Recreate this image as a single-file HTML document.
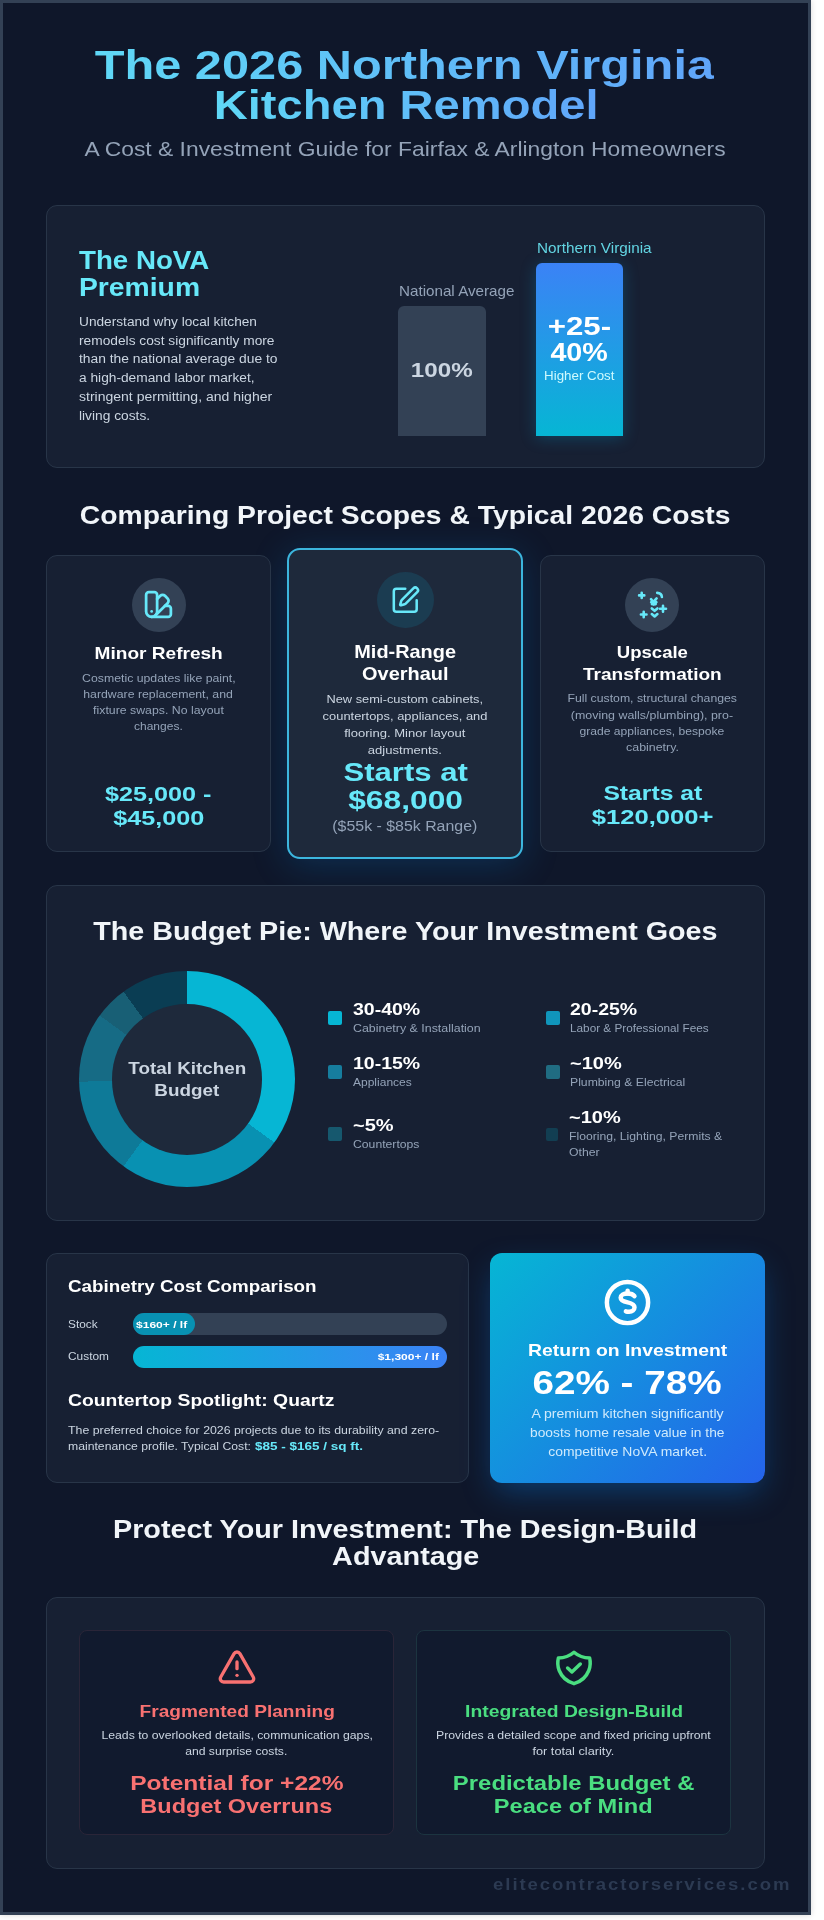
<!DOCTYPE html>
<html lang="en"><head><meta charset="utf-8"><title>The 2026 Northern Virginia Kitchen Remodel</title>
<style>
html,body{margin:0;padding:0;background:#ffffff;}
body{width:824px;height:1920px;overflow:hidden;position:relative;font-family:"Liberation Sans",sans-serif;}
#page{position:absolute;left:0;top:0;width:811px;height:1915px;background:#0f172a;box-shadow:0 0 6px rgba(0,0,0,.16);overflow:hidden;}
.frame{position:absolute;left:0;top:0;width:811px;height:1915px;box-sizing:border-box;border:3px solid #334155;border-right-width:3px;}
.abs{position:absolute;}
.t{position:absolute;white-space:nowrap;margin:0;padding:0;}
.t span{display:inline-block;}
.card{position:absolute;box-sizing:border-box;background:#172033;border:1px solid #283548;border-radius:11px;}
.ic{position:absolute;fill:none;stroke:#67e8f9;stroke-width:2;stroke-linecap:round;stroke-linejoin:round;}
.circ{position:absolute;border-radius:50%;}
.sw{position:absolute;width:14px;height:14px;border-radius:2px;}

</style></head>
<body>
<div id="page">
<div class="frame"></div>
<!-- card 1 -->
<div class="card" style="left:45.5px;top:205.3px;width:719.5px;height:263px;"></div>
<div class="abs" style="left:398.2px;top:305.7px;width:87.4px;height:130px;background:#334155;border-radius:6px 6px 0 0;"></div>
<div class="abs" style="left:536.2px;top:262.8px;width:86.6px;height:172.9px;background:linear-gradient(180deg,#3b82f6,#06b6d4);border-radius:6px 6px 0 0;box-shadow:0 2px 16px rgba(6,160,215,.28);"></div>
<!-- three cards -->
<div class="card" style="left:287px;top:548.3px;width:236.3px;height:311px;background:#1e293b;border:2px solid #3cb6de;border-radius:13px;box-shadow:0 6px 36px 0 rgba(10,125,215,.24);"></div>
<div class="card" style="left:45.7px;top:554.9px;width:225.2px;height:297.2px;"></div>
<div class="card" style="left:539.8px;top:554.9px;width:225.2px;height:297.2px;"></div>
<div class="circ" style="left:131.5px;top:577.6px;width:54.2px;height:54.2px;background:#334155;"></div>
<div class="circ" style="left:376.9px;top:571.6px;width:56.8px;height:56.8px;background:#1b3c51;"></div>
<div class="circ" style="left:624.6px;top:577.6px;width:54.2px;height:54.2px;background:#334155;"></div>
<svg class="ic" style="left:142.2px;top:588.1px;" width="33" height="33" viewBox="0 0 24 24"><path d="M11 17a4 4 0 0 1-8 0V5a2 2 0 0 1 2-2h4a2 2 0 0 1 2 2Z"/><path d="M16.7 13H19a2 2 0 0 1 2 2v4a2 2 0 0 1-2 2H7"/><path d="M7 17h.01"/><path d="m11 8 2.3-2.3a2.4 2.4 0 0 1 3.404.004L18.6 7.6a2.4 2.4 0 0 1 .026 3.434L9.9 19.8"/></svg>
<svg class="ic" style="left:389.8px;top:585.4px;" width="30.5" height="30.5" viewBox="0 0 24 24"><path d="M12 3H5a2 2 0 0 0-2 2v14a2 2 0 0 0 2 2h14a2 2 0 0 0 2-2v-7"/><path d="M18.375 2.625a1 1 0 0 1 3 3l-9.013 9.014a2 2 0 0 1-.853.505l-2.873.84a.5.5 0 0 1-.62-.62l.84-2.873a2 2 0 0 1 .506-.852z"/></svg>
<svg class="ic" style="left:635.8px;top:588.8px;stroke-width:2.6;" width="32" height="32" viewBox="635.8 588.4 32 32"><path d="M638.9 594.8h5.2M641.5 592.2v5.2"/><path d="M657 592.3c2.6.1 4.5 1.600 4.700 4.100"/><path d="M650.8 598.600l2.300 2.800 3.300-3.600M651 601.5l2.600 2.600 2.600-2.600M651.700 603.500h3.800"/><path d="M651.600 607.800l2.800 2.400 2.800-2.400"/><path d="M651.600 613.500l2.800 2.400 2.800-2.400"/><path d="M659.800 608.200h6M662.800 605.200v6"/><path d="M640.700 613.900h5.600M643.500 611.100v5.600"/></svg>
<!-- budget pie card -->
<div class="card" style="left:45.5px;top:885.3px;width:719.5px;height:336px;"></div>
<div class="circ" style="left:79px;top:971.4px;width:216px;height:216px;background:conic-gradient(#06b6d4 0 35%,#0891b2 35% 60%,#0e7a98 60% 74.6%,#166b85 74.6% 85%,#185f75 85% 90%,#0a3d53 90% 100%);"></div>
<div class="circ" style="left:111.6px;top:1004px;width:150.8px;height:150.8px;background:#1e293b;"></div>
<div class="sw" style="left:327.6px;top:1010.8px;background:#06b6d4;"></div>
<div class="sw" style="left:327.6px;top:1065px;background:#167d9e;"></div>
<div class="sw" style="left:327.6px;top:1127px;background:#16586e;"></div>
<div class="sw" style="left:545.6px;top:1010.8px;background:#1095bb;"></div>
<div class="sw" style="left:545.6px;top:1065px;background:#206c82;"></div>
<div class="sw" style="left:546px;top:1127.5px;width:12px;height:13px;background:#123e52;"></div>
<!-- cabinetry card -->
<div class="card" style="left:46px;top:1253.3px;width:422.5px;height:229.3px;"></div>
<div class="abs" style="left:132.7px;top:1313.3px;width:314px;height:22px;border-radius:11px;background:#334155;"></div>
<div class="abs" style="left:132.7px;top:1313.3px;width:62.8px;height:22px;border-radius:11px;background:#0891b2;"></div>
<div class="abs" style="left:132.7px;top:1345.9px;width:314px;height:22px;border-radius:11px;background:linear-gradient(90deg,#06b6d4,#3b82f6);"></div>
<!-- ROI card -->
<div class="abs" style="left:490.2px;top:1253.2px;width:274.6px;height:229.5px;border-radius:12px;background:linear-gradient(135deg,#06b6d4,#2563eb);box-shadow:0 12px 32px -5px rgba(10,120,220,.42);"></div>
<svg class="ic" style="left:603px;top:1277.5px;stroke:#fff;stroke-width:2.2;" width="49" height="49" viewBox="0 0 24 24"><circle cx="12" cy="12" r="10.1"/><path d="M15.400 8.900C14.800 8.100 13.600 7.650 12.050 7.650C10 7.650 8.660 8.400 8.660 9.700C8.660 11 10 11.500 12.050 11.930C14.100 12.400 15.430 13 15.430 14.300C15.430 15.700 14.300 16.500 12.800 16.500C12.200 16.500 11.600 16.450 11.200 16.300"/><path d="M12.050 7.600V6.200"/></svg>
<!-- final card -->
<div class="card" style="left:45.5px;top:1596.8px;width:719.5px;height:272px;"></div>
<div class="card" style="left:79px;top:1630.2px;width:315.4px;height:205.2px;border-radius:8px;background:#111a2e;border-color:#2a2538;"></div>
<div class="card" style="left:416.2px;top:1630.2px;width:314.8px;height:205.2px;border-radius:8px;background:#111a2e;border-color:#1c3440;"></div>
<svg class="ic" style="left:217.2px;top:1646.5px;stroke:#f87171;" width="40" height="40" viewBox="0 0 24 24"><path d="m21.73 18-8-14a2 2 0 0 0-3.480 0l-8 14A2 2 0 0 0 4 21h16a2 2 0 0 0 1.730-3"/><path d="M12 9v4"/><path d="M12 17h.01"/></svg>
<svg class="ic" style="left:554.1px;top:1648px;stroke:#4ade80;stroke-width:3.5;" width="40" height="40" viewBox="0 0 40 40"><path d="M20 4.300C15.500 8.200 10.500 10 4.400 10C3.400 14 3.600 18.500 5.200 22.500C7.600 28.600 12.800 33.500 20 35.700C27.200 33.500 32.400 28.600 34.800 22.500C36.400 18.500 36.600 14 35.600 10C29.500 10 24.500 8.200 20 4.300Z"/><path d="M13.600 20l4.300 4 8.400-8"/></svg>

<div class="t" style="top:40.07px;font-size:40.20px;line-height:52px;left:54.30px;width:700px;text-align:center;font-weight:700;"><span id="h1a" style="transform:scaleX(1.2129);transform-origin:50% 50%;background:linear-gradient(90deg,#5fd8f6,#60a5fa);-webkit-background-clip:text;background-clip:text;color:transparent;">The 2026 Northern Virginia</span></div>
<div class="t" style="top:80.27px;font-size:40.20px;line-height:52px;left:56.30px;width:700px;text-align:center;font-weight:700;"><span id="h1b" style="transform:scaleX(1.1727);transform-origin:50% 50%;background:linear-gradient(90deg,#5fd8f6,#60a5fa);-webkit-background-clip:text;background-clip:text;color:transparent;">Kitchen Remodel</span></div>
<div class="t" style="top:136.46px;font-size:20.60px;line-height:26px;left:54.80px;width:700px;text-align:center;color:#94a3b8;"><span id="sub" style="transform:scaleX(1.1094);transform-origin:50% 50%;">A Cost &amp; Investment Guide for Fairfax &amp; Arlington Homeowners</span></div>
<div class="t" style="top:245.21px;font-size:25.08px;line-height:31px;left:79.30px;font-weight:700;color:#67e8f9;"><span id="c1a" style="transform:scaleX(1.1036);transform-origin:0 50%;">The NoVA</span></div>
<div class="t" style="top:271.51px;font-size:25.08px;line-height:31px;left:79.30px;font-weight:700;color:#67e8f9;"><span id="c1b" style="transform:scaleX(1.1277);transform-origin:0 50%;">Premium</span></div>
<div class="t" style="top:313.86px;font-size:12.24px;line-height:16px;left:79.30px;color:#cbd5e1;"><span id="c1p0" style="transform:scaleX(1.1183);transform-origin:0 50%;">Understand why local kitchen</span></div>
<div class="t" style="top:332.66px;font-size:12.24px;line-height:16px;left:79.30px;color:#cbd5e1;"><span id="c1p1" style="transform:scaleX(1.1231);transform-origin:0 50%;">remodels cost significantly more</span></div>
<div class="t" style="top:351.46px;font-size:12.24px;line-height:16px;left:79.30px;color:#cbd5e1;"><span id="c1p2" style="transform:scaleX(1.1308);transform-origin:0 50%;">than the national average due to</span></div>
<div class="t" style="top:370.26px;font-size:12.24px;line-height:16px;left:79.30px;color:#cbd5e1;"><span id="c1p3" style="transform:scaleX(1.1223);transform-origin:0 50%;">a high-demand labor market,</span></div>
<div class="t" style="top:389.06px;font-size:12.24px;line-height:16px;left:79.30px;color:#cbd5e1;"><span id="c1p4" style="transform:scaleX(1.1453);transform-origin:0 50%;">stringent permitting, and higher</span></div>
<div class="t" style="top:407.86px;font-size:12.24px;line-height:16px;left:79.30px;color:#cbd5e1;"><span id="c1p5" style="transform:scaleX(1.1245);transform-origin:0 50%;">living costs.</span></div>
<div class="t" style="top:283.35px;font-size:13.72px;line-height:17px;left:398.50px;color:#94a3b8;"><span id="na" style="transform:scaleX(1.1075);transform-origin:0 50%;">National Average</span></div>
<div class="t" style="top:357.26px;font-size:20.90px;line-height:26px;left:92.00px;width:700px;text-align:center;font-weight:700;color:#cbd5e1;"><span id="na100" style="transform:scaleX(1.1564);transform-origin:50% 50%;">100%</span></div>
<div class="t" style="top:239.65px;font-size:13.72px;line-height:17px;left:536.50px;color:#62d4e2;"><span id="nv" style="transform:scaleX(1.1158);transform-origin:0 50%;">Northern Virginia</span></div>
<div class="t" style="top:311.41px;font-size:25.08px;line-height:31px;left:229.50px;width:700px;text-align:center;font-weight:700;color:#ffffff;"><span id="nv1" style="transform:scaleX(1.2468);transform-origin:50% 50%;">+25-</span></div>
<div class="t" style="top:337.31px;font-size:25.08px;line-height:31px;left:229.50px;width:700px;text-align:center;font-weight:700;color:#ffffff;"><span id="nv2" style="transform:scaleX(1.1444);transform-origin:50% 50%;">40%</span></div>
<div class="t" style="top:367.76px;font-size:12.24px;line-height:16px;left:229.50px;width:700px;text-align:center;color:#cffafe;"><span id="nv3" style="transform:scaleX(1.0895);transform-origin:50% 50%;">Higher Cost</span></div>
<div class="t" style="top:499.22px;font-size:25.34px;line-height:32px;left:55.50px;width:700px;text-align:center;font-weight:700;color:#f1f5f9;"><span id="h2a" style="transform:scaleX(1.1174);transform-origin:50% 50%;">Comparing Project Scopes &amp; Typical 2026 Costs</span></div>
<div class="t" style="top:642.85px;font-size:16.88px;line-height:21px;left:-191.50px;width:700px;text-align:center;font-weight:700;color:#ffffff;"><span id="ca1" style="transform:scaleX(1.1305);transform-origin:50% 50%;">Minor Refresh</span></div>
<div class="t" style="top:670.58px;font-size:11.02px;line-height:14px;left:-191.50px;width:700px;text-align:center;color:#94a3b8;"><span id="cad0" style="transform:scaleX(1.1147);transform-origin:50% 50%;">Cosmetic updates like paint,</span></div>
<div class="t" style="top:686.68px;font-size:11.02px;line-height:14px;left:-191.50px;width:700px;text-align:center;color:#94a3b8;"><span id="cad1" style="transform:scaleX(1.1155);transform-origin:50% 50%;">hardware replacement, and</span></div>
<div class="t" style="top:702.78px;font-size:11.02px;line-height:14px;left:-191.50px;width:700px;text-align:center;color:#94a3b8;"><span id="cad2" style="transform:scaleX(1.1181);transform-origin:50% 50%;">fixture swaps. No layout</span></div>
<div class="t" style="top:718.88px;font-size:11.02px;line-height:14px;left:-191.50px;width:700px;text-align:center;color:#94a3b8;"><span id="cad3" style="transform:scaleX(1.0912);transform-origin:50% 50%;">changes.</span></div>
<div class="t" style="top:780.76px;font-size:20.90px;line-height:26px;left:-191.50px;width:700px;text-align:center;font-weight:700;color:#67e8f9;"><span id="cap1" style="transform:scaleX(1.2048);transform-origin:50% 50%;">$25,000 -</span></div>
<div class="t" style="top:804.76px;font-size:20.90px;line-height:26px;left:-191.50px;width:700px;text-align:center;font-weight:700;color:#67e8f9;"><span id="cap2" style="transform:scaleX(1.2063);transform-origin:50% 50%;">$45,000</span></div>
<div class="t" style="top:640.58px;font-size:17.66px;line-height:22px;left:55.20px;width:700px;text-align:center;font-weight:700;color:#ffffff;"><span id="cb1" style="transform:scaleX(1.1267);transform-origin:50% 50%;">Mid-Range</span></div>
<div class="t" style="top:662.98px;font-size:17.66px;line-height:22px;left:55.20px;width:700px;text-align:center;font-weight:700;color:#ffffff;"><span id="cb2" style="transform:scaleX(1.1288);transform-origin:50% 50%;">Overhaul</span></div>
<div class="t" style="top:692.19px;font-size:11.58px;line-height:15px;left:55.20px;width:700px;text-align:center;color:#cbd5e1;"><span id="cbd0" style="transform:scaleX(1.1062);transform-origin:50% 50%;">New semi-custom cabinets,</span></div>
<div class="t" style="top:709.29px;font-size:11.58px;line-height:15px;left:55.20px;width:700px;text-align:center;color:#cbd5e1;"><span id="cbd1" style="transform:scaleX(1.1135);transform-origin:50% 50%;">countertops, appliances, and</span></div>
<div class="t" style="top:726.39px;font-size:11.58px;line-height:15px;left:55.20px;width:700px;text-align:center;color:#cbd5e1;"><span id="cbd2" style="transform:scaleX(1.1275);transform-origin:50% 50%;">flooring. Minor layout</span></div>
<div class="t" style="top:743.49px;font-size:11.58px;line-height:15px;left:55.20px;width:700px;text-align:center;color:#cbd5e1;"><span id="cbd3" style="transform:scaleX(1.1278);transform-origin:50% 50%;">adjustments.</span></div>
<div class="t" style="top:756.38px;font-size:26.33px;line-height:33px;left:55.20px;width:700px;text-align:center;font-weight:700;color:#67e8f9;"><span id="cbp1" style="transform:scaleX(1.1811);transform-origin:50% 50%;">Starts at</span></div>
<div class="t" style="top:783.98px;font-size:26.33px;line-height:33px;left:55.20px;width:700px;text-align:center;font-weight:700;color:#67e8f9;"><span id="cbp2" style="transform:scaleX(1.2055);transform-origin:50% 50%;">$68,000</span></div>
<div class="t" style="top:816.89px;font-size:14.45px;line-height:18px;left:55.20px;width:700px;text-align:center;color:#94a3b8;"><span id="cbp3" style="transform:scaleX(1.1014);transform-origin:50% 50%;">($55k - $85k Range)</span></div>
<div class="t" style="top:641.65px;font-size:16.88px;line-height:21px;left:302.30px;width:700px;text-align:center;font-weight:700;color:#ffffff;"><span id="cc1" style="transform:scaleX(1.1012);transform-origin:50% 50%;">Upscale</span></div>
<div class="t" style="top:663.85px;font-size:16.88px;line-height:21px;left:302.30px;width:700px;text-align:center;font-weight:700;color:#ffffff;"><span id="cc2" style="transform:scaleX(1.1310);transform-origin:50% 50%;">Transformation</span></div>
<div class="t" style="top:691.38px;font-size:11.02px;line-height:14px;left:302.30px;width:700px;text-align:center;color:#94a3b8;"><span id="ccd0" style="transform:scaleX(1.1120);transform-origin:50% 50%;">Full custom, structural changes</span></div>
<div class="t" style="top:707.58px;font-size:11.02px;line-height:14px;left:302.30px;width:700px;text-align:center;color:#94a3b8;"><span id="ccd1" style="transform:scaleX(1.1272);transform-origin:50% 50%;">(moving walls/plumbing), pro-</span></div>
<div class="t" style="top:723.78px;font-size:11.02px;line-height:14px;left:302.30px;width:700px;text-align:center;color:#94a3b8;"><span id="ccd2" style="transform:scaleX(1.0996);transform-origin:50% 50%;">grade appliances, bespoke</span></div>
<div class="t" style="top:739.98px;font-size:11.02px;line-height:14px;left:302.30px;width:700px;text-align:center;color:#94a3b8;"><span id="ccd3" style="transform:scaleX(1.1258);transform-origin:50% 50%;">cabinetry.</span></div>
<div class="t" style="top:780.26px;font-size:20.90px;line-height:26px;left:302.30px;width:700px;text-align:center;font-weight:700;color:#67e8f9;"><span id="ccp1" style="transform:scaleX(1.1821);transform-origin:50% 50%;">Starts at</span></div>
<div class="t" style="top:804.16px;font-size:20.90px;line-height:26px;left:302.30px;width:700px;text-align:center;font-weight:700;color:#67e8f9;"><span id="ccp2" style="transform:scaleX(1.2259);transform-origin:50% 50%;">$120,000+</span></div>
<div class="t" style="top:915.22px;font-size:25.34px;line-height:32px;left:55.50px;width:700px;text-align:center;font-weight:700;color:#f1f5f9;"><span id="h2b" style="transform:scaleX(1.1336);transform-origin:50% 50%;">The Budget Pie: Where Your Investment Goes</span></div>
<div class="t" style="top:1057.71px;font-size:16.72px;line-height:21px;left:-163.00px;width:700px;text-align:center;font-weight:700;color:#cbd5e1;"><span id="dn1" style="transform:scaleX(1.1279);transform-origin:50% 50%;">Total Kitchen</span></div>
<div class="t" style="top:1079.51px;font-size:16.72px;line-height:21px;left:-163.00px;width:700px;text-align:center;font-weight:700;color:#cbd5e1;"><span id="dn2" style="transform:scaleX(1.1298);transform-origin:50% 50%;">Budget</span></div>
<div class="t" style="top:998.81px;font-size:16.72px;line-height:21px;left:352.70px;font-weight:700;color:#ffffff;"><span id="l1a" style="transform:scaleX(1.1672);transform-origin:0 50%;">30-40%</span></div>
<div class="t" style="top:1021.08px;font-size:11.02px;line-height:14px;left:352.70px;color:#94a3b8;"><span id="l1b" style="transform:scaleX(1.1268);transform-origin:0 50%;">Cabinetry &amp; Installation</span></div>
<div class="t" style="top:1052.71px;font-size:16.72px;line-height:21px;left:352.70px;font-weight:700;color:#ffffff;"><span id="l2a" style="transform:scaleX(1.1672);transform-origin:0 50%;">10-15%</span></div>
<div class="t" style="top:1074.88px;font-size:11.02px;line-height:14px;left:352.70px;color:#94a3b8;"><span id="l2b" style="transform:scaleX(1.0905);transform-origin:0 50%;">Appliances</span></div>
<div class="t" style="top:1114.71px;font-size:16.72px;line-height:21px;left:352.70px;font-weight:700;color:#ffffff;"><span id="l3a" style="transform:scaleX(1.1968);transform-origin:0 50%;">~5%</span></div>
<div class="t" style="top:1137.18px;font-size:11.02px;line-height:14px;left:352.70px;color:#94a3b8;"><span id="l3b" style="transform:scaleX(1.1075);transform-origin:0 50%;">Countertops</span></div>
<div class="t" style="top:998.81px;font-size:16.72px;line-height:21px;left:570.40px;font-weight:700;color:#ffffff;"><span id="r1a" style="transform:scaleX(1.1672);transform-origin:0 50%;">20-25%</span></div>
<div class="t" style="top:1021.08px;font-size:11.02px;line-height:14px;left:570.40px;color:#94a3b8;"><span id="r1b" style="transform:scaleX(1.0682);transform-origin:0 50%;">Labor &amp; Professional Fees</span></div>
<div class="t" style="top:1052.71px;font-size:16.72px;line-height:21px;left:570.40px;font-weight:700;color:#ffffff;"><span id="r2a" style="transform:scaleX(1.1972);transform-origin:0 50%;">~10%</span></div>
<div class="t" style="top:1074.88px;font-size:11.02px;line-height:14px;left:570.40px;color:#94a3b8;"><span id="r2b" style="transform:scaleX(1.1081);transform-origin:0 50%;">Plumbing &amp; Electrical</span></div>
<div class="t" style="top:1106.71px;font-size:16.72px;line-height:21px;left:568.50px;font-weight:700;color:#ffffff;"><span id="r3a" style="transform:scaleX(1.1972);transform-origin:0 50%;">~10%</span></div>
<div class="t" style="top:1129.08px;font-size:11.02px;line-height:14px;left:568.50px;color:#94a3b8;"><span id="r3b" style="transform:scaleX(1.1069);transform-origin:0 50%;">Flooring, Lighting, Permits &amp;</span></div>
<div class="t" style="top:1145.18px;font-size:11.02px;line-height:14px;left:568.50px;color:#94a3b8;"><span id="r3c" style="transform:scaleX(1.1122);transform-origin:0 50%;">Other</span></div>
<div class="t" style="top:1275.83px;font-size:16.93px;line-height:21px;left:68.20px;font-weight:700;color:#ffffff;"><span id="k1" style="transform:scaleX(1.1107);transform-origin:0 50%;">Cabinetry Cost Comparison</span></div>
<div class="t" style="top:1317.22px;font-size:10.91px;line-height:14px;left:68.20px;color:#cbd5e1;"><span id="k2" style="transform:scaleX(1.0848);transform-origin:0 50%;">Stock</span></div>
<div class="t" style="top:1349.32px;font-size:10.91px;line-height:14px;left:68.20px;color:#cbd5e1;"><span id="k3" style="transform:scaleX(1.0898);transform-origin:0 50%;">Custom</span></div>
<div class="t" style="top:1318.60px;font-size:9.82px;line-height:12px;left:136.00px;font-weight:700;color:#ffffff;"><span id="k4" style="transform:scaleX(1.2269);transform-origin:0 50%;">$160+ / lf</span></div>
<div class="t" style="top:1350.90px;font-size:9.82px;line-height:12px;left:-61.50px;width:500px;text-align:right;font-weight:700;color:#ffffff;"><span id="k5" style="transform:scaleX(1.2275);transform-origin:100% 50%;">$1,300+ / lf</span></div>
<div class="t" style="top:1389.63px;font-size:16.93px;line-height:21px;left:68.20px;font-weight:700;color:#ffffff;"><span id="k6" style="transform:scaleX(1.1426);transform-origin:0 50%;">Countertop Spotlight: Quartz</span></div>
<div class="t" style="top:1423.08px;font-size:11.02px;line-height:14px;left:68.20px;color:#cbd5e1;"><span id="k7" style="transform:scaleX(1.1203);transform-origin:0 50%;">The preferred choice for 2026 projects due to its durability and zero-</span></div>
<div class="t" style="top:1439.48px;font-size:11.02px;line-height:14px;left:68.20px;color:#cbd5e1;"><span id="k8" style="transform:scaleX(1.1078);transform-origin:0 50%;">maintenance profile. Typical Cost:</span></div>
<div class="t" style="top:1439.39px;font-size:11.29px;line-height:14px;left:254.50px;font-weight:700;color:#67e8f9;"><span id="k8b" style="transform:scaleX(1.1952);transform-origin:0 50%;">$85 - $165 / sq ft.</span></div>
<div class="t" style="top:1339.55px;font-size:16.88px;line-height:21px;left:277.50px;width:700px;text-align:center;font-weight:700;color:#ffffff;"><span id="r1" style="transform:scaleX(1.1490);transform-origin:50% 50%;">Return on Investment</span></div>
<div class="t" style="top:1361.78px;font-size:33.54px;line-height:42px;left:277.50px;width:700px;text-align:center;font-weight:700;color:#ffffff;"><span id="r2" style="transform:scaleX(1.1536);transform-origin:50% 50%;">62% - 78%</span></div>
<div class="t" style="top:1406.01px;font-size:12.37px;line-height:16px;left:277.50px;width:700px;text-align:center;color:#cfeafc;"><span id="rd0" style="transform:scaleX(1.1374);transform-origin:50% 50%;">A premium kitchen significantly</span></div>
<div class="t" style="top:1424.91px;font-size:12.37px;line-height:16px;left:277.50px;width:700px;text-align:center;color:#cfeafc;"><span id="rd1" style="transform:scaleX(1.1140);transform-origin:50% 50%;">boosts home resale value in the</span></div>
<div class="t" style="top:1443.81px;font-size:12.37px;line-height:16px;left:277.50px;width:700px;text-align:center;color:#cfeafc;"><span id="rd2" style="transform:scaleX(1.1242);transform-origin:50% 50%;">competitive NoVA market.</span></div>
<div class="t" style="top:1513.12px;font-size:25.34px;line-height:32px;left:55.50px;width:700px;text-align:center;font-weight:700;color:#f1f5f9;"><span id="h2c" style="transform:scaleX(1.1363);transform-origin:50% 50%;">Protect Your Investment: The Design-Build</span></div>
<div class="t" style="top:1540.22px;font-size:25.34px;line-height:32px;left:55.50px;width:700px;text-align:center;font-weight:700;color:#f1f5f9;"><span id="h2d" style="transform:scaleX(1.1377);transform-origin:50% 50%;">Advantage</span></div>
<div class="t" style="top:1700.65px;font-size:16.88px;line-height:21px;left:-113.30px;width:700px;text-align:center;font-weight:700;color:#f87171;"><span id="f1" style="transform:scaleX(1.1332);transform-origin:50% 50%;">Fragmented Planning</span></div>
<div class="t" style="top:1728.48px;font-size:11.02px;line-height:14px;left:-113.30px;width:700px;text-align:center;color:#cbd5e1;"><span id="f2" style="transform:scaleX(1.1112);transform-origin:50% 50%;">Leads to overlooked details, communication gaps,</span></div>
<div class="t" style="top:1744.18px;font-size:11.02px;line-height:14px;left:-113.30px;width:700px;text-align:center;color:#cbd5e1;"><span id="f3" style="transform:scaleX(1.1044);transform-origin:50% 50%;">and surprise costs.</span></div>
<div class="t" style="top:1769.76px;font-size:20.90px;line-height:26px;left:-113.30px;width:700px;text-align:center;font-weight:700;color:#f87171;"><span id="f4" style="transform:scaleX(1.1745);transform-origin:50% 50%;">Potential for +22%</span></div>
<div class="t" style="top:1793.36px;font-size:20.90px;line-height:26px;left:-113.30px;width:700px;text-align:center;font-weight:700;color:#f87171;"><span id="f5" style="transform:scaleX(1.1247);transform-origin:50% 50%;">Budget Overruns</span></div>
<div class="t" style="top:1700.65px;font-size:16.88px;line-height:21px;left:223.70px;width:700px;text-align:center;font-weight:700;color:#4ade80;"><span id="g1" style="transform:scaleX(1.1467);transform-origin:50% 50%;">Integrated Design-Build</span></div>
<div class="t" style="top:1728.48px;font-size:11.02px;line-height:14px;left:223.70px;width:700px;text-align:center;color:#cbd5e1;"><span id="g2" style="transform:scaleX(1.1133);transform-origin:50% 50%;">Provides a detailed scope and fixed pricing upfront</span></div>
<div class="t" style="top:1744.18px;font-size:11.02px;line-height:14px;left:223.70px;width:700px;text-align:center;color:#cbd5e1;"><span id="g3" style="transform:scaleX(1.1567);transform-origin:50% 50%;">for total clarity.</span></div>
<div class="t" style="top:1769.76px;font-size:20.90px;line-height:26px;left:223.70px;width:700px;text-align:center;font-weight:700;color:#4ade80;"><span id="g4" style="transform:scaleX(1.1432);transform-origin:50% 50%;">Predictable Budget &amp;</span></div>
<div class="t" style="top:1793.36px;font-size:20.90px;line-height:26px;left:223.70px;width:700px;text-align:center;font-weight:700;color:#4ade80;"><span id="g5" style="transform:scaleX(1.1307);transform-origin:50% 50%;">Peace of Mind</span></div>
<div class="t" style="top:1874.01px;font-size:16.72px;line-height:21px;left:289.60px;width:500px;text-align:right;font-weight:700;color:#2c3a52;"><span id="ft" style="transform:scaleX(1.1115);transform-origin:100% 50%;letter-spacing:1.72px;margin-right:-1.72px;">elitecontractorservices.com</span></div>
</div>
</body></html>
